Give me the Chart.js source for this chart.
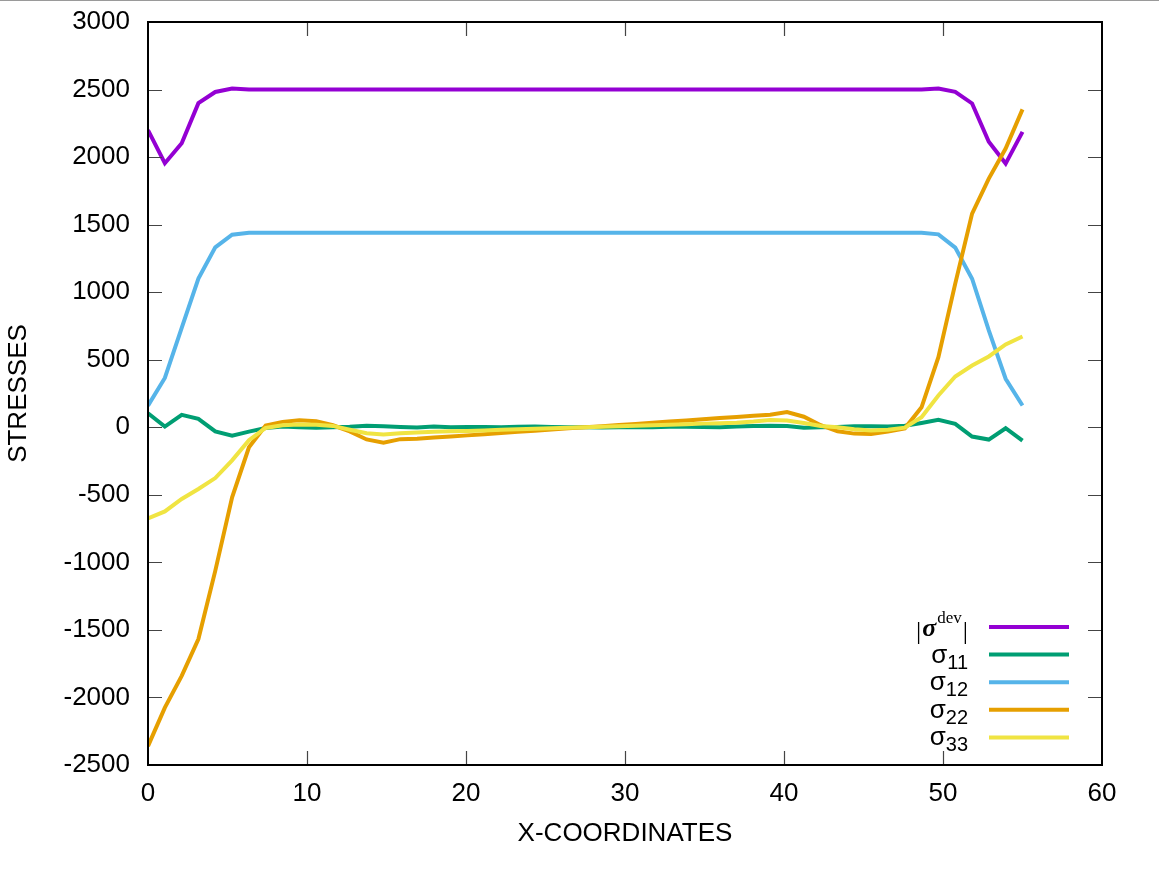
<!DOCTYPE html>
<html>
<head>
<meta charset="utf-8">
<script src="https://cdn.jsdelivr.net/npm/chart.js@4.4.1/dist/chart.umd.min.js"></script>
<style>
    html, body { margin: 0; padding: 0; background: #fff; overflow: hidden; }
    body { border-top: 1px solid #9a9a9a; }
    canvas { display: block; }
</style>
</head>
<body>
<canvas id="chart1" width="1159" height="869"></canvas>
<script>
// x coordinates of the sampled points
const xs = [0, 1.06, 2.12, 3.17, 4.23, 5.29, 6.35, 7.40, 8.46, 9.52,
    10.58, 11.63, 12.69, 13.75, 14.81, 15.87, 16.92, 17.98, 19.04, 20.10,
    21.15, 22.21, 23.27, 24.33, 25.38, 26.44, 27.50, 28.56, 29.62, 30.67,
    31.73, 32.79, 33.85, 34.90, 35.96, 37.02, 38.08, 39.13, 40.19, 41.25,
    42.31, 43.37, 44.42, 45.48, 46.54, 47.60, 48.65, 49.71, 50.77, 51.83,
    52.88, 53.94, 55.00];

// |sigma dev|
const sigDev = [2200, 1955, 2102, 2399, 2482, 2508, 2500, 2500, 2500, 2500,
    2500, 2500, 2500, 2500, 2500, 2500, 2500, 2500, 2500, 2500,
    2500, 2500, 2500, 2500, 2500, 2500, 2500, 2500, 2500, 2500,
    2500, 2500, 2500, 2500, 2500, 2500, 2500, 2500, 2500, 2500,
    2500, 2500, 2500, 2500, 2500, 2500, 2500, 2508, 2483, 2397,
    2113, 1952, 2187];

const sig11 = [104, 5, 92, 62, -30, -62, -32, -6, 5, 0,
    -3, 0, 3, 12, 8, 2, -2, 6, 0, 2,
    2, 0, 3, 5, 2, 0, 0, -2, 0, 2,
    0, 3, 4, 2, 0, 5, 10, 12, 10, -3,
    0, 2, 8, 8, 6, 12, 32, 55, 25, -69,
    -91, -7, -99];

const sig12 = [160, 365, 735, 1100, 1332, 1425, 1440, 1440, 1440, 1440,
    1440, 1440, 1440, 1440, 1440, 1440, 1440, 1440, 1440, 1440,
    1440, 1440, 1440, 1440, 1440, 1440, 1440, 1440, 1440, 1440,
    1440, 1440, 1440, 1440, 1440, 1440, 1440, 1440, 1440, 1440,
    1440, 1440, 1440, 1440, 1440, 1440, 1440, 1428, 1330, 1100,
    717, 359, 161];

const sig22 = [-2360, -2075, -1840, -1568, -1063, -519, -148, 12, 40, 52,
    45, 15, -30, -90, -115, -88, -85, -76, -68, -60,
    -51, -42, -34, -25, -17, -8, 0, 8, 17, 25,
    34, 42, 51, 60, 68, 76, 85, 92, 112, 78,
    15, -30, -47, -49, -32, -8, 148, 519, 1063, 1582,
    1841, 2063, 2353];

const sig33 = [-675, -623, -531, -457, -376, -245, -95, -5, 15, 20,
    18, 10, -18, -44, -54, -45, -38, -34, -30, -27,
    -23, -19, -15, -11, -8, -4, 0, 4, 8, 11,
    15, 19, 23, 27, 30, 34, 42, 54, 50, 32,
    10, 0, -15, -24, -18, -3, 75, 235, 376, 457,
    524, 613, 672];

const seriesColors = ['#9400d3', '#009e73', '#56b4e9', '#e69f00', '#f0e442'];
const seriesNames = ['|σdev|', 'σ11', 'σ12', 'σ22', 'σ33'];
const legendSubs = ['dev', '11', '12', '22', '33'];

const SANS = "'Liberation Sans', Arial, sans-serif";
const SERIF = "'Liberation Serif', 'DejaVu Serif', serif";

Chart.defaults.color = '#000';
Chart.defaults.font.family = SANS;
Chart.defaults.font.size = 26;

function toPoints(vals) {
    return xs.map((x, i) => ({x: x, y: vals[i]}));
}

// gnuplot style frame with inward ticks on all four sides
const frameTicks = {
    id: 'frameTicks',
    afterDatasetsDraw(chart) {
        const {ctx, chartArea: a, scales: {x, y}} = chart;
        const len = 14;
        ctx.save();
        ctx.strokeStyle = '#444';
        ctx.lineWidth = 1.2;
        ctx.beginPath();
        y.ticks.forEach(t => {
            if (t.value === y.min || t.value === y.max) return;
            const py = Math.round(y.getPixelForValue(t.value)) + 0.5;
            ctx.moveTo(a.left, py); ctx.lineTo(a.left + len, py);
            ctx.moveTo(a.right, py); ctx.lineTo(a.right - len, py);
        });
        x.ticks.forEach(t => {
            if (t.value === x.min || t.value === x.max) return;
            const px = Math.round(x.getPixelForValue(t.value)) + 0.5;
            ctx.moveTo(px, a.bottom); ctx.lineTo(px, a.bottom - len);
            ctx.moveTo(px, a.top); ctx.lineTo(px, a.top + len);
        });
        ctx.stroke();
        ctx.strokeStyle = '#000';
        ctx.lineWidth = 2;
        ctx.strokeRect(a.left, a.top, a.right - a.left, a.bottom - a.top);
        ctx.restore();
    }
};

// legend with sub/superscripts, right aligned text and line samples
const stressLegend = {
    id: 'stressLegend',
    afterDraw(chart) {
        const {ctx, chartArea: a} = chart;
        const textRight = a.right - 134;
        const x1 = a.right - 113, x2 = a.right - 33;
        const y0 = a.bottom - 138, dy = 27.6;
        ctx.save();
        ctx.textAlign = 'right';
        ctx.textBaseline = 'alphabetic';
        ctx.fillStyle = '#000';
        seriesColors.forEach((c, i) => {
            const ly = y0 + i * dy;
            ctx.strokeStyle = c;
            ctx.lineWidth = 4;
            ctx.beginPath();
            ctx.moveTo(x1, ly); ctx.lineTo(x2, ly);
            ctx.stroke();

            let tx = textRight;
            if (i === 0) {
                ctx.font = '26px ' + SERIF;
                ctx.fillText('|', tx, ly + 12);
                tx -= ctx.measureText('|').width + 1;
                ctx.font = '17px ' + SERIF;
                ctx.fillText(legendSubs[0], tx, ly - 4);
                tx -= ctx.measureText(legendSubs[0]).width + 1;
                ctx.font = 'bold italic 26px ' + SERIF;
                ctx.fillText('σ', tx, ly + 9);
                tx -= ctx.measureText('σ').width + 1;
                ctx.font = '26px ' + SERIF;
                ctx.fillText('|', tx, ly + 12);
            } else {
                ctx.font = '20px ' + SANS;
                ctx.fillText(legendSubs[i], tx, ly + 14);
                tx -= ctx.measureText(legendSubs[i]).width;
                ctx.font = '26px ' + SANS;
                ctx.fillText('σ', tx, ly + 8);
            }
        });
        ctx.restore();
    }
};

const plainNumber = v => String(v);

const chart1 = document.getElementById('chart1');
new Chart(chart1, {
    type: 'line',
    data: {
        datasets: seriesNames.map((name, i) => ({
            label: name,
            data: toPoints([sigDev, sig11, sig12, sig22, sig33][i]),
            borderColor: seriesColors[i],
            backgroundColor: seriesColors[i],
            borderWidth: 4,
            pointRadius: 0,
            tension: 0,
            fill: false,
            order: 5 - i
        }))
    },
    options: {
        responsive: false,
        animation: false,
        events: [],
        layout: {
            padding: {left: 3, right: 57, top: 21, bottom: 0}
        },
        plugins: {
            legend: {display: false},
            tooltip: {enabled: false}
        },
        scales: {
            x: {
                type: 'linear',
                min: 0,
                max: 60,
                afterFit: s => { s.height = 105; },
                grid: {display: false, drawTicks: false},
                border: {display: false},
                ticks: {stepSize: 10, padding: 13, maxRotation: 0, callback: plainNumber},
                title: {
                    display: true,
                    text: 'X-COORDINATES',
                    padding: {top: 0, bottom: 21}
                }
            },
            y: {
                type: 'linear',
                min: -2500,
                max: 3000,
                afterFit: s => { s.width = 145; },
                grid: {display: false, drawTicks: true, tickLength: 18},
                border: {display: false},
                ticks: {stepSize: 500, padding: 0, callback: plainNumber},
                title: {
                    display: true,
                    text: 'STRESSES',
                    padding: {top: 0, bottom: 0}
                }
            }
        }
    },
    plugins: [frameTicks, stressLegend]
});
</script>
</body>
</html>
